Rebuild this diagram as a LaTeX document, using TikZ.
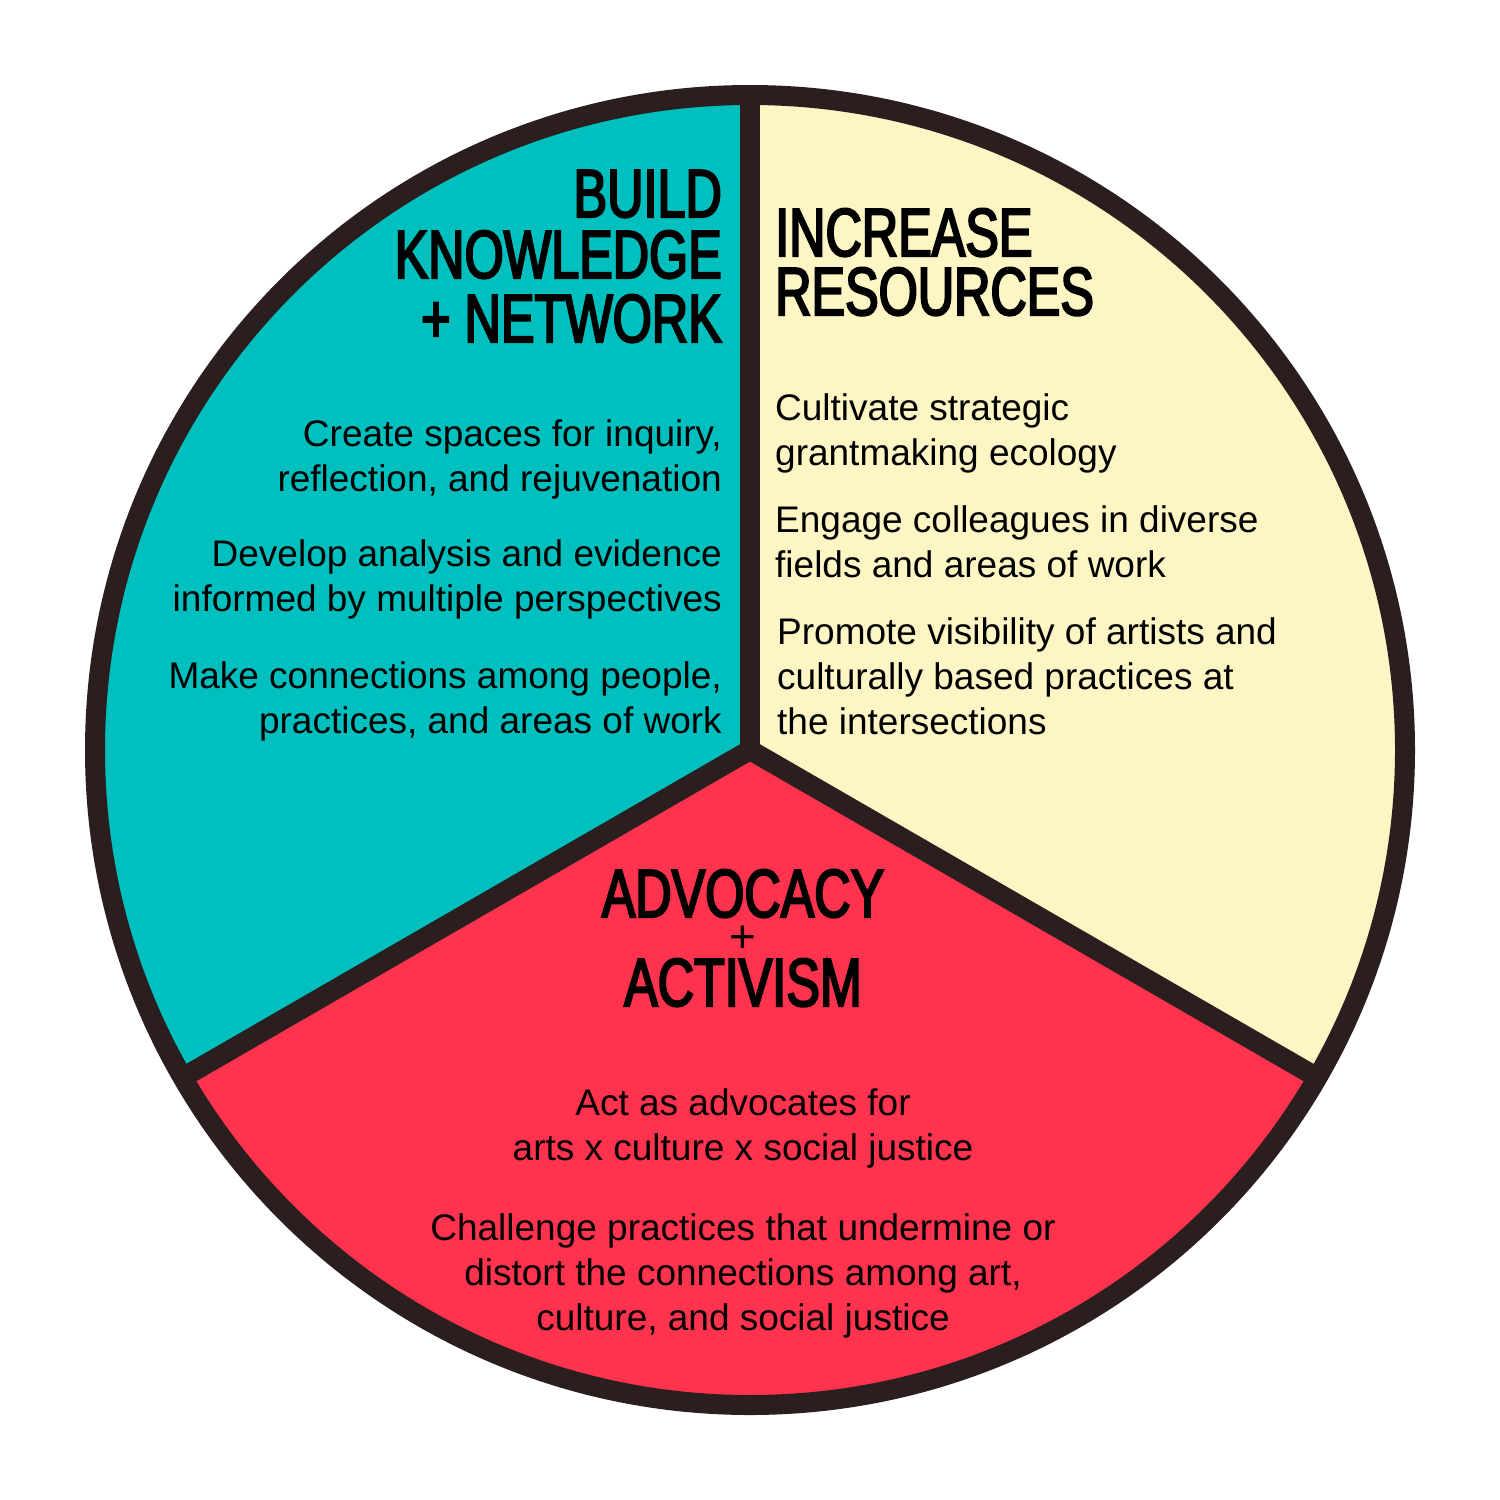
\documentclass[tikz,border=0pt]{standalone}
\usepackage{fontspec}
\setmainfont{Liberation Sans}
\newfontfamily\headfont[FakeStretch=0.74,FakeBold=3]{Liberation Sans}
\definecolor{tealc}{RGB}{0,191,191}
\definecolor{creamc}{RGB}{253,245,196}
\definecolor{redc}{RGB}{255,51,78}
\definecolor{darkc}{RGB}{42,31,30}
\tikzset{
  head/.style={inner sep=0pt, font=\headfont\fontsize{68}{68}\selectfont, text=black},
  body/.style={inner sep=0pt, font=\fontsize{37}{45}\selectfont, text=black},
  rim/.style={draw=darkc, line width=20pt}
}
\begin{document}
\begin{tikzpicture}[x=1pt,y=-1pt]
\useasboundingbox[fill=white] (0,0) rectangle (1500,1500);
\begin{scope}[shift={(750,750)}]
  \fill[tealc] (0,0) -- (150:655) arc[start angle=150, end angle=270, radius=655] -- cycle;
  \fill[creamc] (0,0) -- (270:655) arc[start angle=270, end angle=390, radius=655] -- cycle;
  \fill[redc] (0,0) -- (30:655) arc[start angle=30, end angle=150, radius=655] -- cycle;
  \coordinate (c) at (0,0);
  \coordinate (top) at (270:655);
  \coordinate (ll) at (150:655);
  \coordinate (lr) at (30:655);
  \draw[rim] (c) -- (top);
  \draw[rim] (c) -- (ll);
  \draw[rim] (c) -- (lr);
  \fill[darkc] (90:11.55) -- (210:11.55) -- (330:11.55) -- cycle;
  \draw[rim] (c) circle[radius=655];
\end{scope}
% headings
\node[head, anchor=base east] (h1) at (722,217) {BUILD};
\node[head, anchor=base east] (h2) at (722,278) {KNOWLEDGE};
\node[head, anchor=base east] (h3) at (722,342) {+ NETWORK};
\node[head, anchor=base west] (h4) at (775,256) {INCREASE};
\node[head, anchor=base west] (h5) at (775,315) {RESOURCES};
\node[head, anchor=base] (h6) at (743,917) {ADVOCACY};
\node[inner sep=0pt, font=\fontsize{46}{46}\selectfont, anchor=base] (h7) at (743,952) {+};
\node[head, anchor=base] (h8) at (743,1006) {ACTIVISM};
% left body
\node[body, anchor=base east] (l1) at (722,446) {Create spaces for inquiry,};
\node[body, anchor=base east] (l2) at (722,491) {reflection, and rejuvenation};
\node[body, anchor=base east] (l3) at (722,566) {Develop analysis and evidence};
\node[body, anchor=base east] (l4) at (722,611) {informed by multiple perspectives};
\node[body, anchor=base east] (l5) at (722,688) {Make connections among people,};
\node[body, anchor=base east] (l6) at (722,733) {practices, and areas of work};
% right body
\node[body, anchor=base west] (r1) at (775,420) {Cultivate strategic};
\node[body, anchor=base west] (r2) at (775,465) {grantmaking ecology};
\node[body, anchor=base west] (r3) at (775,532) {Engage colleagues in diverse};
\node[body, anchor=base west] (r4) at (775,577) {fields and areas of work};
\node[body, anchor=base west] (r5) at (777,644) {Promote visibility of artists and};
\node[body, anchor=base west] (r6) at (777,689) {culturally based practices at};
\node[body, anchor=base west] (r7) at (777,734) {the intersections};
% bottom body
\node[body, anchor=base] (b1) at (743,1115) {Act as advocates for};
\node[body, anchor=base] (b2) at (743,1160) {arts x culture x social justice};
\node[body, anchor=base] (b3) at (743,1240) {Challenge practices that undermine or};
\node[body, anchor=base] (b4) at (743,1285) {distort the connections among art,};
\node[body, anchor=base] (b5) at (743,1330) {culture, and social justice};
\end{tikzpicture}
\end{document}
